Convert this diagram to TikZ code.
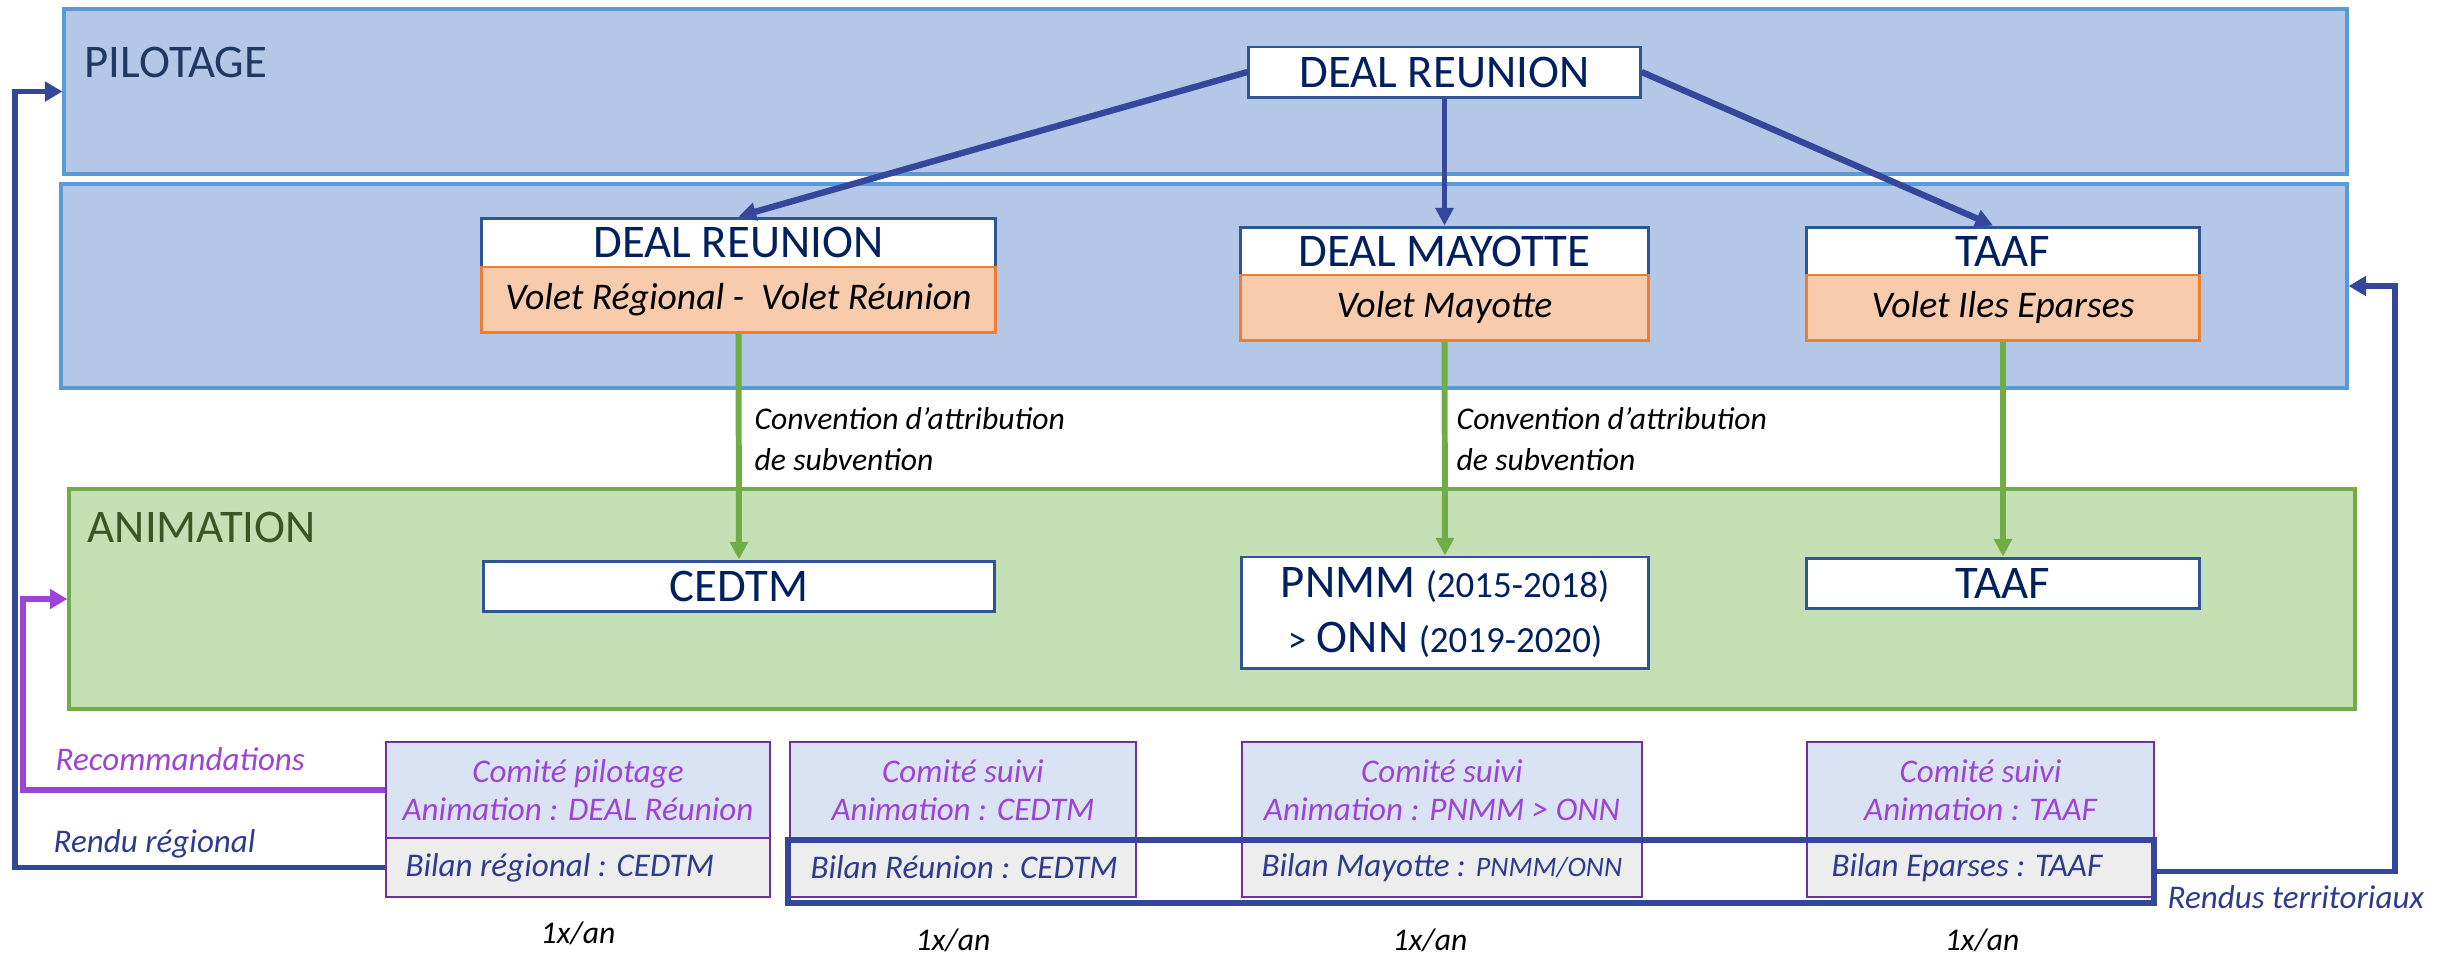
\documentclass[tikz,border=0pt]{standalone}
\usepackage{fontspec}
\setmainfont{Carlito}
\usetikzlibrary{arrows.meta}
\definecolor{bandfill}{HTML}{B4C7E7}
\definecolor{bandline}{HTML}{5B9BD5}
\definecolor{greenfill}{HTML}{C5E0B4}
\definecolor{greenline}{HTML}{70AD47}
\definecolor{animtext}{HTML}{385723}
\definecolor{pilottext}{HTML}{1F3864}
\definecolor{navy}{HTML}{002060}
\definecolor{boxline}{HTML}{2F5597}
\definecolor{orfill}{HTML}{F8CBAD}
\definecolor{orline}{HTML}{ED7D31}
\definecolor{arrowblue}{HTML}{34479A}
\definecolor{purp}{HTML}{9B44D6}
\definecolor{purpline}{HTML}{7030A0}
\definecolor{comfill}{HTML}{DAE3F3}
\definecolor{bilfill}{HTML}{EDEDED}
\definecolor{biltext}{HTML}{2E3C8C}
\tikzset{
  band/.style={draw=bandline, fill=bandfill, line width=1.1pt, inner sep=0pt},
  greenband/.style={draw=greenline, fill=greenfill, line width=1.1pt, inner sep=0pt},
  whitebox/.style={draw=boxline, fill=white, line width=0.85pt, inner sep=0pt, text=navy, font=\fontsize{13.3}{16}\selectfont},
  orangebox/.style={draw=orline, fill=orfill, line width=0.85pt, inner sep=0pt, text=black, font=\itshape\fontsize{10.7}{13}\selectfont},
  comup/.style={draw=purpline, fill=comfill, line width=0.6pt, inner sep=0pt, align=center, text=purp, font=\itshape\fontsize{9.4}{10.8}\selectfont, minimum height=0.96cm},
  comlow/.style={draw=purpline, fill=bilfill, line width=0.6pt, inner sep=0pt, minimum height=0.59cm},
  biltxt/.style={anchor=west, inner sep=0pt, text=biltext, font=\itshape\fontsize{9.4}{11}\selectfont},
  blueline/.style={draw=arrowblue, line width=1.5pt, -{Triangle[length=5pt,width=5.5pt]}},
  bluearrow/.style={draw=arrowblue, -{Triangle[length=5pt,width=5pt]}},
  greenarrow/.style={draw=greenline, line width=1.7pt, -{Triangle[length=5pt,width=5pt]}},
  smalllabel/.style={inner sep=0pt, font=\itshape\fontsize{9}{11.4}\selectfont},
}
\begin{document}
\begin{tikzpicture}[x=0.01cm,y=-0.01cm]
\useasboundingbox (0,0) rectangle (2437,956);

% bands
\node[band, minimum width=22.81cm, minimum height=1.65cm] (pil) at (1205.5,91.5) {};
\node[band, minimum width=22.84cm, minimum height=2.04cm] (reg) at (1204,286) {};
\node[greenband, minimum width=22.84cm, minimum height=2.2cm] (anim) at (1212,599) {};
\node[anchor=base west, inner sep=0pt, text=pilottext, font=\fontsize{13.3}{16}\selectfont] (piltxt) at (84,77) {PILOTAGE};
\node[anchor=base west, inner sep=0pt, text=animtext, font=\fontsize{13.3}{16}\selectfont] (animtxt) at (87,542) {ANIMATION};

% pilotage
\node[whitebox, minimum width=3.91cm, minimum height=0.5cm] (drtop) at (1444.5,72) {DEAL REUNION};

% regional
\node[whitebox, minimum width=5.13cm, minimum height=0.49cm] (dr1w) at (738.5,242.5) {DEAL REUNION};
\node[orangebox, minimum width=5.13cm, minimum height=0.65cm] (dr1o) at (738.5,299.5) {Volet Régional -\ \ Volet Réunion};
\node[whitebox, minimum width=4.07cm, minimum height=0.48cm] (dmw) at (1444.5,251) {DEAL MAYOTTE};
\node[orangebox, minimum width=4.07cm, minimum height=0.65cm] (dmo) at (1444.5,307.5) {Volet Mayotte};
\node[whitebox, minimum width=3.92cm, minimum height=0.48cm] (taw) at (2003,251) {TAAF};
\node[orangebox, minimum width=3.92cm, minimum height=0.65cm] (tao) at (2003,307.5) {Volet Iles Eparses};

% animation
\node[whitebox, minimum width=5.10cm, minimum height=0.50cm] (cedtm) at (739,586) {CEDTM};
\node[whitebox, minimum width=4.06cm, minimum height=1.11cm, align=center, font=\fontsize{13.3}{15.6}\selectfont] (pnmm) at (1445,612.5)
  {PNMM {\fontsize{10.5}{12}\selectfont (2015-2018)}\\{\fontsize{10.5}{12}\selectfont >} ONN {\fontsize{10.5}{12}\selectfont (2019-2020)}};
\node[whitebox, minimum width=3.92cm, minimum height=0.50cm] (taaf2) at (2003,583) {TAAF};

% arrows pilotage -> regional
\draw[bluearrow, line width=1.8pt] (drtop.west) -- (dr1w.north);
\draw[bluearrow, line width=1.3pt] (drtop.south) -- (dmw.north);
\draw[bluearrow, line width=1.8pt] (drtop.east) -- ([xshift=-0.1cm]taw.north);

% green arrows
\draw[greenarrow] (dr1o.south) -- (cedtm.north);
\draw[greenarrow] (dmo.south) -- (pnmm.north);
\draw[greenarrow] (tao.south) -- (taaf2.north);
\node[smalllabel, anchor=base west, align=left] (conv1) at (754,470) {Convention d’attribution\\de subvention};
\node[smalllabel, anchor=base west, align=left] (conv2) at (1456,470) {Convention d’attribution\\de subvention};

% bottom committees
\node[comup, minimum width=3.84cm] (b1u) at (578,790) {Comité pilotage\\Animation : DEAL Réunion};
\node[comlow, minimum width=3.84cm] (b1l) at (578,867.5) {};
\node[biltxt] (b1t) at ([xshift=0.2cm]b1l.west) {Bilan régional : CEDTM};

\node[comup, minimum width=3.46cm] (b2u) at (963,790) {Comité suivi\\Animation : CEDTM};
\node[comlow, minimum width=3.46cm] (b2l) at (963,867.5) {};
\node[biltxt] (b2t) at ([xshift=0.21cm]b2l.west) {Bilan Réunion : CEDTM};

\node[comup, minimum width=4.00cm] (b3u) at (1442,790) {Comité suivi\\Animation : PNMM > ONN};
\node[comlow, minimum width=4.00cm] (b3l) at (1442,867.5) {};
\node[biltxt] (b3t) at ([xshift=0.2cm]b3l.west) {Bilan Mayotte : {\fontsize{8}{10}\selectfont PNMM/ONN}};

\node[comup, minimum width=3.47cm] (b4u) at (1980.5,790) {Comité suivi\\Animation : TAAF};
\node[comlow, minimum width=3.47cm] (b4l) at (1980.5,867.5) {};
\node[biltxt] (b4t) at ([xshift=0.25cm]b4l.west) {Bilan Eparses : TAAF};

% thick frame round territorial bilans
\node[draw=arrowblue, line width=1.7pt, minimum width=13.66cm, minimum height=0.63cm, inner sep=0pt] (bilrect) at (1471,871.5) {};

% frequencies
\node[smalllabel, anchor=base] (f1) at (578,943) {1x/an};
\node[smalllabel, anchor=base] (f2) at (953,950) {1x/an};
\node[smalllabel, anchor=base] (f3) at (1430,950) {1x/an};
\node[smalllabel, anchor=base] (f4) at (1982,950) {1x/an};

% feedback loops
\coordinate (rrcorner) at (15,867.5);
\draw[blueline] (b1l.west) -- (rrcorner) |- (pil.west);
\node[smalllabel, anchor=base west, text=biltext, font=\itshape\fontsize{9.4}{11}\selectfont] (rrtxt) at (53,852) {Rendu régional};

\coordinate (reccorner) at (23,790);
\draw[blueline, draw=purp] (b1u.west) -- (reccorner) |- (anim.west);
\node[smalllabel, anchor=base west, text=purp, font=\itshape\fontsize{9.4}{11}\selectfont] (rectxt) at (55,770) {Recommandations};

\coordinate (rtcorner) at (2395,871.5);
\draw[blueline] (bilrect.east) -- (rtcorner) |- (reg.east);
\node[smalllabel, anchor=base west, text=biltext, font=\itshape\fontsize{9.4}{11}\selectfont] (rttxt) at (2167,908) {Rendus territoriaux};
\end{tikzpicture}
\end{document}
